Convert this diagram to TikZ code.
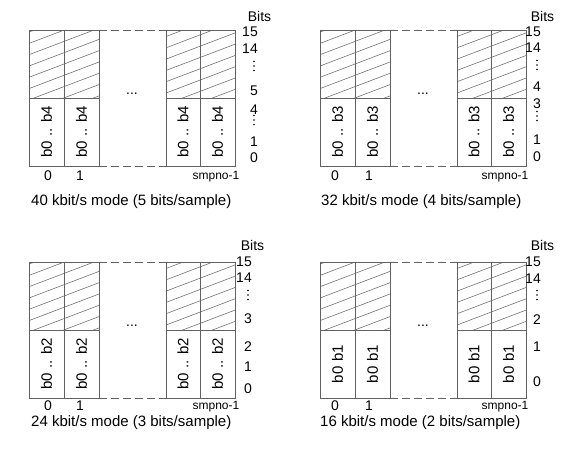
\documentclass[tikz,border=0pt]{standalone}
\usepackage{fontspec}
\setmainfont{Liberation Sans}
\definecolor{boxgray}{rgb}{0.38,0.38,0.38}
\definecolor{hatchgray}{rgb}{0.45,0.45,0.45}
\tikzset{
  boxline/.style={draw=boxgray, line width=0.9pt},
  hatchline/.style={draw=hatchgray, line width=0.6pt},
  dashline/.style={draw=boxgray, line width=0.9pt, dash pattern=on 8pt off 4pt},
  lbl/.style={font=\fontsize{14}{14}\selectfont, inner sep=0pt},
  numlbl/.style={lbl, anchor=east},
  small/.style={font=\fontsize{12}{12}\selectfont, inner sep=0pt},
  rotlbl/.style={font=\fontsize{15}{15}\selectfont, inner sep=0pt, rotate=90},
  caption/.style={font=\fontsize{15}{15}\selectfont, inner sep=0pt, anchor=west},
  vdot/.style={fill=black, draw=none, circle, inner sep=0pt, minimum size=1.6pt}
}
% panel: #1 = x of box left, #2 = y of box top, #3 = name, #4 = rotated text
\newcommand\drawpanel[4]{%
\begin{scope}[shift={(#1,#2)}]
  \begin{scope}
    \clip (0,0) rectangle (70,68) (137,0) rectangle (206,68);
    \foreach \d in {2.1,13.4,...,160}
      \draw[hatchline] (0,\d) -- ++(206,-78.3);
  \end{scope}
  \draw[boxline] (0,0) rectangle (70,136);
  \draw[boxline] (35,0) -- (35,136);
  \draw[boxline] (0,68) -- (70,68);
  \draw[boxline] (137,0) rectangle (206,136);
  \draw[boxline] (171,0) -- (171,136);
  \draw[boxline] (137,68) -- (206,68);
  \coordinate (#3-tl) at (70,0);
  \coordinate (#3-tr) at (137,0);
  \coordinate (#3-bl) at (70,136);
  \coordinate (#3-br) at (137,136);
  \draw[dashline] (#3-tl) -- (#3-tr);
  \draw[dashline] (#3-bl) -- (#3-br);
  \node[lbl] (#3-ell) at (103,64) {...};
  \node[rotlbl] (#3-c1) at (17.5,102) {#4};
  \node[rotlbl] (#3-c2) at (52.5,102) {#4};
  \node[rotlbl] (#3-c3) at (154,102) {#4};
  \node[rotlbl] (#3-c4) at (188.5,102) {#4};
\end{scope}}
\newcommand\vdts[3]{% x, y, name
  \node[vdot] (#3a) at (#1,#2-4.5) {};
  \node[vdot] (#3b) at (#1,#2) {};
  \node[vdot] (#3c) at (#1,#2+4.5) {};}
\begin{document}
\begin{tikzpicture}[x=1pt,y=-1pt]
\useasboundingbox (0,0) rectangle (570,459);

% ---------- Panel 1 ----------
\drawpanel{29}{30}{pa}{b0 .. b4}
\node[lbl] (pa-bits) at (259.5,16) {Bits};
\node[numlbl] (pa-15) at (258,32) {15};
\node[numlbl] (pa-14) at (258,48.5) {14};
\vdts{254}{66}{pa-d1}
\node[numlbl] (pa-5) at (258,91) {5};
\node[numlbl] (pa-4) at (258,110) {4};
\vdts{254}{120}{pa-d2}
\node[numlbl] (pa-1) at (258,142) {1};
\node[numlbl] (pa-0) at (258,157.5) {0};
\node[lbl] (pa-i0) at (48,175.5) {0};
\node[lbl] (pa-i1) at (80,175.5) {1};
\node[small] (pa-n) at (216,176.5) {smpno-1};
\node[caption] (pa-cap) at (31,202) {40 kbit/s mode (5 bits/sample)};

% ---------- Panel 2 ----------
\drawpanel{320}{30}{pb}{b0 .. b3}
\node[lbl] (pb-bits) at (542.5,16) {Bits};
\node[numlbl] (pb-15) at (541,32) {15};
\node[numlbl] (pb-14) at (541,48) {14};
\vdts{537}{65}{pb-d1}
\node[numlbl] (pb-4) at (541,87) {4};
\node[numlbl] (pb-3) at (541,104) {3};
\vdts{537}{116}{pb-d2}
\node[numlbl] (pb-1) at (541,140) {1};
\node[numlbl] (pb-0) at (541,157) {0};
\node[lbl] (pb-i0) at (335,175.5) {0};
\node[lbl] (pb-i1) at (369,175.5) {1};
\node[small] (pb-n) at (505,176.5) {smpno-1};
\node[caption] (pb-cap) at (321,202) {32 kbit/s mode (4 bits/sample)};

% ---------- Panel 3 ----------
\drawpanel{29}{262}{pc}{b0 .. b2}
\node[lbl] (pc-bits) at (252.5,245) {Bits};
\node[numlbl] (pc-15) at (252,262) {15};
\node[numlbl] (pc-14) at (252,278) {14};
\vdts{248}{295}{pc-d1}
\node[numlbl] (pc-3) at (252,319) {3};
\node[numlbl] (pc-2) at (252,347) {2};
\node[numlbl] (pc-1) at (252,367) {1};
\node[numlbl] (pc-0) at (252,389) {0};
\node[lbl] (pc-i0) at (48,405.5) {0};
\node[lbl] (pc-i1) at (80,405.5) {1};
\node[small] (pc-n) at (216,406.5) {smpno-1};
\node[caption] (pc-cap) at (31,423) {24 kbit/s mode (3 bits/sample)};

% ---------- Panel 4 ----------
\drawpanel{320}{262}{pd}{b0\hspace{5pt}b1}
\node[lbl] (pd-bits) at (542.5,245) {Bits};
\node[numlbl] (pd-15) at (541,262) {15};
\node[numlbl] (pd-14) at (541,279) {14};
\vdts{537}{295}{pd-d1}
\node[numlbl] (pd-2) at (541,320) {2};
\node[numlbl] (pd-1) at (541,347) {1};
\node[numlbl] (pd-0) at (541,382) {0};
\node[lbl] (pd-i0) at (335,405.5) {0};
\node[lbl] (pd-i1) at (369,405.5) {1};
\node[small] (pd-n) at (505,406.5) {smpno-1};
\node[caption] (pd-cap) at (320,423) {16 kbit/s mode (2 bits/sample)};
\end{tikzpicture}
\end{document}
